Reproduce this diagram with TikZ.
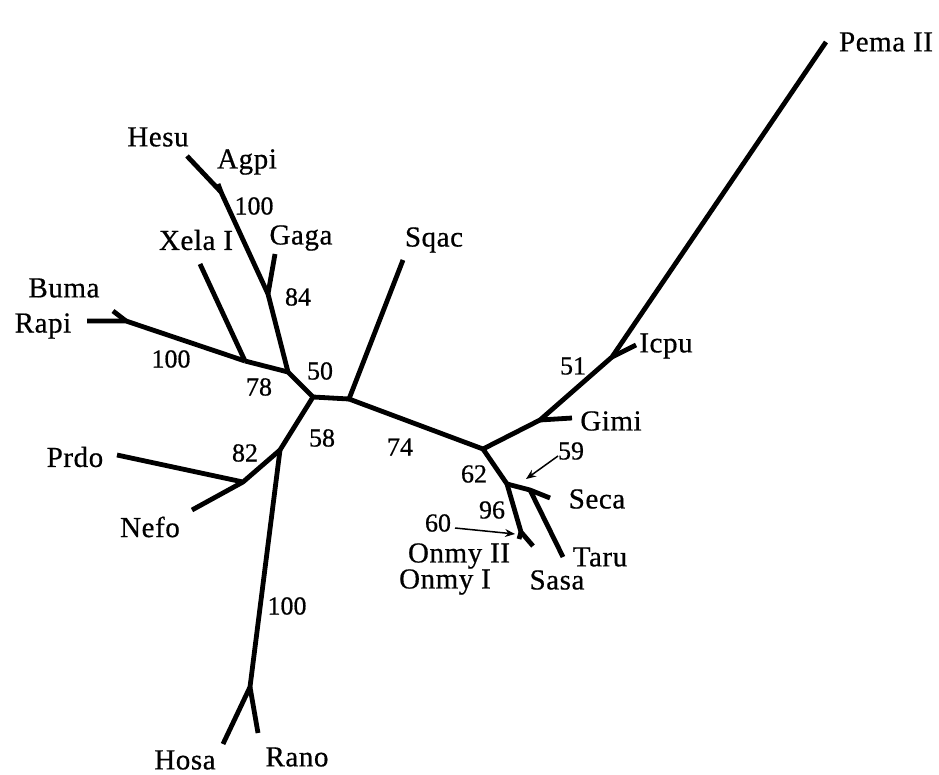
\documentclass[tikz,border=0pt]{standalone}
\usepackage{fontspec}
\setmainfont{Liberation Serif}[FakeBold=0.6]
\newfontfamily\taxonfont[LetterSpace=2,FakeBold=0.6]{Liberation Serif}
\usetikzlibrary{arrows.meta}
\begin{document}
\begin{tikzpicture}[x=1pt,y=-1pt,
  branch/.style={line width=4.8pt,line join=round},
  taxon/.style={font=\taxonfont\fontsize{29}{29}\selectfont,inner sep=0pt},
  boot/.style={font=\fontsize{26}{26}\selectfont,inner sep=0pt},
  pointer/.style={line width=1.5pt,-{Stealth[length=10pt,width=8pt]}}]
\useasboundingbox (0,0) rectangle (939,775);
% internal nodes of the tree
\coordinate (nA) at (313,397);
\coordinate (nB) at (349,399);
\coordinate (nC) at (483,449);
\coordinate (nGimi) at (540,420);
\coordinate (nIcpu) at (612,357);
\coordinate (nD) at (507,484);
\coordinate (nE) at (530,490);
\coordinate (nG) at (521,532);
\coordinate (nH) at (288,372);
\coordinate (nI) at (245,361);
\coordinate (nRB) at (126,321);
\coordinate (nJ) at (268,294);
\coordinate (nK) at (221,192);
\coordinate (nL) at (280,450);
\coordinate (nM) at (243,482);
\coordinate (nN) at (250,687);
% leaf ends
\coordinate (tPema) at (826,42);
\coordinate (tIcpu) at (636,345);
\coordinate (tGimi) at (572,418);
\coordinate (tSeca) at (550,498);
\coordinate (tTaru) at (563,557);
\coordinate (tSasa) at (533,546);
\coordinate (tOnmy) at (519,539);
\coordinate (tSqac) at (403,260);
\coordinate (tGaga) at (275,254);
\coordinate (tHesu) at (187,156);
\coordinate (tAgpi) at (218,184);
\coordinate (tXela) at (200,264);
\coordinate (tRapi) at (87,321);
\coordinate (tBuma) at (113,311);
\coordinate (tPrdo) at (117,455);
\coordinate (tNefo) at (192,510);
\coordinate (tHosa) at (223,744);
\coordinate (tRano) at (258,733);
% pointer ends
\coordinate (p59a) at (558,456);
\coordinate (p59b) at (526,479);
\coordinate (p60a) at (455,528);
\coordinate (p60b) at (515,534);
% branches
\draw[branch] (nA) -- (nB);
\draw[branch] (nB) -- (tSqac);
\draw[branch] (nB) -- (nC);
\draw[branch] (nC) -- (nGimi) -- (nIcpu) -- (tPema);
\draw[branch] (nGimi) -- (tGimi);
\draw[branch] (nIcpu) -- (tIcpu);
\draw[branch] (nC) -- (nD);
\draw[branch] (nD) -- (nE) -- (tSeca);
\draw[branch] (nE) -- (tTaru);
\draw[branch] (nD) -- (nG) -- (tSasa);
\draw[branch] (nG) -- (tOnmy);
\draw[branch] (nA) -- (nH);
\draw[branch] (nH) -- (nI);
\draw[branch] (nI) -- (nRB) -- (tRapi);
\draw[branch] (nRB) -- (tBuma);
\draw[branch] (nI) -- (tXela);
\draw[branch] (nH) -- (nJ) -- (nK) -- (tHesu);
\draw[branch] (nK) -- (tAgpi);
\draw[branch] (nJ) -- (tGaga);
\draw[branch] (nA) -- (nL);
\draw[branch] (nL) -- (nM) -- (tPrdo);
\draw[branch] (nM) -- (tNefo);
\draw[branch] (nL) -- (nN) -- (tHosa);
\draw[branch] (nN) -- (tRano);
% taxon names
\node[taxon] (lPema) at (886,42) {Pema II};
\node[taxon] (lIcpu) at (666,346) {Icpu};
\node[taxon] (lGimi) at (611,421) {Gimi};
\node[taxon] (lSeca) at (597,499) {Seca};
\node[taxon] (lTaru) at (600,557) {Taru};
\node[taxon] (lSasa) at (557,580) {Sasa};
\node[taxon] (lOnmyII) at (459,556) {Onmy II};
\node[taxon] (lOnmyI) at (445,582) {Onmy I};
\node[taxon] (lSqac) at (434,240) {Sqac};
\node[taxon] (lHesu) at (158,137) {Hesu};
\node[taxon] (lAgpi) at (247,162) {Agpi};
\node[taxon] (lXela) at (196,240) {Xela I};
\node[taxon] (lGaga) at (301,238) {Gaga};
\node[taxon] (lBuma) at (64,288) {Buma};
\node[taxon] (lRapi) at (43,326) {Rapi};
\node[taxon] (lPrdo) at (75,457) {Prdo};
\node[taxon] (lNefo) at (150,527) {Nefo};
\node[taxon] (lHosa) at (185,760) {Hosa};
\node[taxon] (lRano) at (297,757) {Rano};
% bootstrap values
\node[boot] (b100a) at (254,206) {100};
\node[boot] (b84) at (298,297) {84};
\node[boot] (b50) at (320,371) {50};
\node[boot] (b100b) at (171,359) {100};
\node[boot] (b78) at (259,387) {78};
\node[boot] (b58) at (322,438) {58};
\node[boot] (b82) at (245,453) {82};
\node[boot] (b74) at (400,447) {74};
\node[boot] (b100c) at (287,606) {100};
\node[boot] (b51) at (573,366) {51};
\node[boot] (b62) at (474,474) {62};
\node[boot] (b59) at (571,451) {59};
\node[boot] (b96) at (492,510) {96};
\node[boot] (b60) at (438,523) {60};
% pointers for crowded values
\draw[pointer] (p59a) -- (p59b);
\draw[pointer] (p60a) -- (p60b);
\end{tikzpicture}
\end{document}
